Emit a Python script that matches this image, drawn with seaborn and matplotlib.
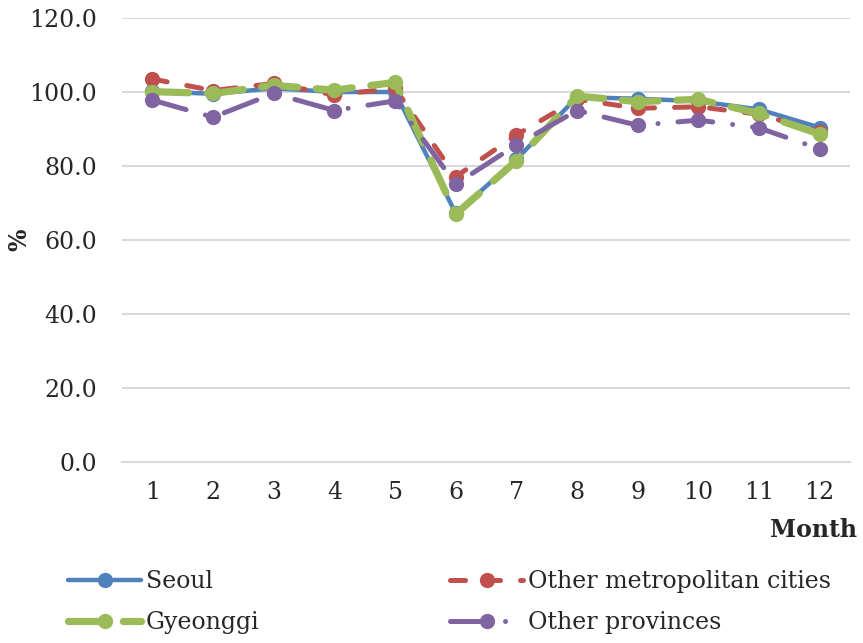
import numpy as np
import pandas as pd
import seaborn as sns
import matplotlib.pyplot as plt
from matplotlib.lines import Line2D

months = list(range(1, 13))
seoul = [100.2, 99.5, 101.0, 100.0, 100.0, 67.2, 81.8, 98.6, 98.2, 97.5, 95.3, 90.4]
metro = [103.5, 100.4, 102.3, 99.2, 101.0, 77.1, 88.4, 98.0, 95.6, 96.0, 94.0, 89.2]
gyeonggi = [100.1, 99.6, 101.8, 100.5, 102.6, 67.0, 81.4, 98.9, 97.4, 98.0, 94.2, 88.6]
provinces = [97.8, 93.2, 99.6, 95.0, 97.6, 75.1, 85.7, 95.0, 91.0, 92.4, 90.3, 84.6]
names = ['Seoul', 'Other metropolitan cities', 'Gyeonggi', 'Other provinces']
colors = ['#4F81BD', '#C0504D', '#9BBB59', '#8064A2']

df = pd.DataFrame({
    'Month': months * 4,
    'value': seoul + metro + gyeonggi + provinces,
    'region': [n for n in names for _ in months],
})

sns.set_style('white')
plt.rcParams['font.family'] = ['DejaVu Serif']

fig = plt.figure(figsize=(8.63, 6.43), dpi=100)
ax = fig.add_axes([0.1414, 0.2815, 0.8436, 0.6905])

ms = 11
widths = {'Seoul': 3.2, 'Other metropolitan cities': 3.6,
          'Gyeonggi': 5.2, 'Other provinces': 3.6}
dash_map = {
    'Seoul': None,
    'Other metropolitan cities': (3, 4),
    'Gyeonggi': (5, 2.6),
    'Other provinces': (7, 4, 0.01, 4),
}


def style_of(n):
    return '-' if dash_map[n] is None else (0, dash_map[n])


for n, c in zip(names, colors):
    sub = df[df['region'] == n]
    sns.lineplot(data=sub, x='Month', y='value', color=c, linestyle=style_of(n),
                 marker='o', markersize=ms, markeredgewidth=0, linewidth=widths[n],
                 dash_capstyle='round', solid_capstyle='round', ax=ax)

ax.set_xlim(0.5, 12.5)
ax.set_ylim(0, 120)
ax.set_yticks(np.arange(0, 121, 20))
ax.set_yticklabels([f'{v:.1f}' for v in np.arange(0, 121, 20)])
ax.set_xticks(months)
ax.yaxis.grid(True, color='#D9D9D9', linewidth=1.5)
ax.set_axisbelow(True)
for s in ['top', 'right', 'left']:
    ax.spines[s].set_visible(False)
ax.spines['bottom'].set_color('#D9D9D9')
ax.spines['bottom'].set_linewidth(1.5)
ax.tick_params(axis='both', length=0, labelsize=17)
ax.tick_params(axis='y', pad=18)
ax.tick_params(axis='x', pad=14)
ax.set_xlabel('')
ax.set_ylabel('')

fig.text(0.022, 1 - 240 / 643, '%', rotation=90, fontsize=17, fontweight='bold',
         va='center', ha='center')
fig.text(857 / 863, 1 - 530 / 643, 'Month', fontsize=17, fontweight='bold',
         ha='right', va='center')


def make_handle(n, c):
    return Line2D([], [], color=c, linestyle=style_of(n), linewidth=widths[n],
                  marker='o', markersize=ms, markeredgewidth=0,
                  dash_capstyle='round', solid_capstyle='round')


leg_kw = dict(frameon=False, fontsize=17, handlelength=3.1, handletextpad=0.2,
              labelspacing=0.75, borderpad=0, borderaxespad=0, loc='center left')
leg1 = fig.legend([make_handle(names[0], colors[0]), make_handle(names[2], colors[2])],
                  [names[0], names[2]], bbox_to_anchor=(68 / 863, 1 - 602 / 643), **leg_kw)
leg2 = fig.legend([make_handle(names[1], colors[1]), make_handle(names[3], colors[3])],
                  [names[1], names[3]], bbox_to_anchor=(450 / 863, 1 - 602 / 643), **leg_kw)

fig.savefig('out.png', dpi=100)
